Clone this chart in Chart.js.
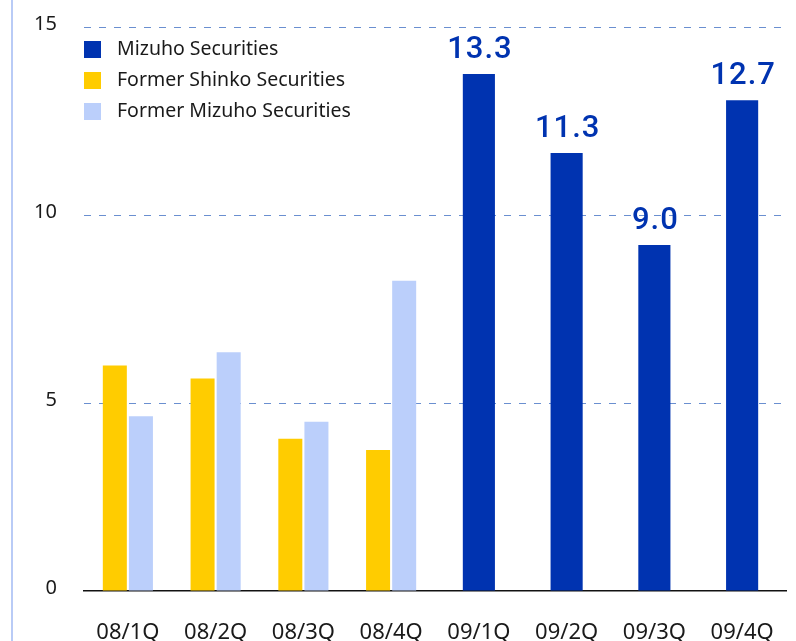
<!DOCTYPE html>
<html>
<head>
<meta charset="utf-8">
<title>Mizuho Securities quarterly</title>
<script src="https://cdn.jsdelivr.net/npm/chart.js@4.4.1/dist/chart.umd.min.js"></script>
<style>
  html, body { margin: 0; padding: 0; background: #fff; }
  #wrap { position: relative; width: 796px; height: 641px; }
</style>
</head>
<body>
<div id="wrap"><canvas id="secChart" width="796" height="641"></canvas></div>
<script>
// ============================
// DATA
// ============================
const quarters = ["08/1Q", "08/2Q", "08/3Q", "08/4Q", "09/1Q", "09/2Q", "09/3Q", "09/4Q"];
const formerShinko = [6.0, 5.65, 4.05, 3.75, null, null, null, null];
const formerMizuho = [4.65, 6.35, 4.5, 8.25, null, null, null, null];
const mizuhoSecurities = [null, null, null, null, 13.75, 11.65, 9.2, 13.05];
const mizuhoLabels = [null, null, null, null, "13.3", "11.3", "9.0", "12.7"];
const yTicks = [0, 5, 10, 15];

const legendNames = ["Mizuho Securities", "Former Shinko Securities", "Former Mizuho Securities"];

const BLUE = "#0033b0";
const YELLOW = "#ffcc00";
const LIGHT = "#bbcffb";
const FONT = "'Noto Sans', 'DejaVu Sans', sans-serif";

// ============================
// PLUGINS
// ============================
// thin light-blue rule down the left edge
const leftRule = {
  id: "leftRule",
  beforeDraw(chart) {
    const ctx = chart.ctx;
    ctx.save();
    ctx.fillStyle = "#b9cbf6";
    ctx.fillRect(11, 0, 2, chart.height);
    ctx.restore();
  },
};

// legend sits inside the plot, top-left
const boxLegend = {
  id: "boxLegend",
  afterDraw(chart) {
    const ctx = chart.ctx;
    const colors = [BLUE, YELLOW, LIGHT];
    const x = chart.chartArea.left;
    ctx.save();
    ctx.font = "19.5px " + FONT;
    ctx.textBaseline = "middle";
    legendNames.forEach((name, i) => {
      const top = 41 + i * 31;
      ctx.fillStyle = colors[i];
      ctx.fillRect(x, top, 17, 17);
      ctx.fillStyle = "#1a1a1a";
      ctx.fillText(name, x + 33, top + 8);
    });
    ctx.restore();
  },
};

// value labels above the Mizuho Securities bars
const valueLabels = {
  id: "valueLabels",
  afterDatasetsDraw(chart) {
    const ctx = chart.ctx;
    const meta = chart.getDatasetMeta(2);
    ctx.save();
    ctx.font = "500 31px Roboto, " + FONT;
    ctx.fillStyle = BLUE;
    ctx.textAlign = "center";
    ctx.textBaseline = "alphabetic";
    if ("letterSpacing" in ctx) ctx.letterSpacing = "1px";
    meta.data.forEach((bar, i) => {
      if (mizuhoLabels[i] == null) return;
      ctx.fillText(mizuhoLabels[i], bar.x + 1, bar.y - 16);
    });
    ctx.restore();
  },
};

// ============================
// CHART
// ============================
new Chart(document.getElementById("secChart"), {
  type: "bar",
  data: {
    labels: quarters,
    datasets: [
      {
        label: legendNames[1],
        data: formerShinko,
        backgroundColor: YELLOW,
        categoryPercentage: 0.595,
        barPercentage: 0.92,
      },
      {
        label: legendNames[2],
        data: formerMizuho,
        backgroundColor: LIGHT,
        categoryPercentage: 0.595,
        barPercentage: 0.92,
      },
      {
        label: legendNames[0],
        data: mizuhoSecurities,
        backgroundColor: BLUE,
        categoryPercentage: 0.595,
        barPercentage: 0.615,
      },
    ],
  },
  options: {
    responsive: false,
    animation: false,
    skipNull: true,
    layout: { padding: { top: 27, right: 10, left: 0, bottom: 0 } },
    plugins: {
      legend: { display: false },
      tooltip: { enabled: false },
    },
    scales: {
      x: {
        grid: { display: false },
        border: { display: true, color: "#111", width: 1.5 },
        ticks: {
          color: "#1a1a1a",
          font: { family: FONT, size: 22 },
          padding: 21,
          maxRotation: 0,
        },
        afterFit: (s) => {
          s.height = 50;
          s.paddingLeft = 0;
          s.paddingRight = 0;
        },
      },
      y: {
        min: yTicks[0],
        max: yTicks[yTicks.length - 1],
        afterBuildTicks: (s) => { s.ticks = yTicks.map((v) => ({ value: v })); },
        grid: {
          drawTicks: false,
          color: (c) => (c.tick && c.tick.value === 0 ? "rgba(0,0,0,0)" : "#6a8fd0"),
          lineWidth: 1,
        },
        border: { display: false, dash: [7, 8] },
        ticks: {
          color: "#1a1a1a",
          font: { family: FONT, size: 20 },
          padding: 27,
          labelOffset: -3,
        },
        afterFit: (s) => {
          s.width = 84;
          s.paddingTop = 0;
          s.paddingBottom = 0;
        },
      },
    },
  },
  plugins: [leftRule, boxLegend, valueLabels],
});
</script>
</body>
</html>
